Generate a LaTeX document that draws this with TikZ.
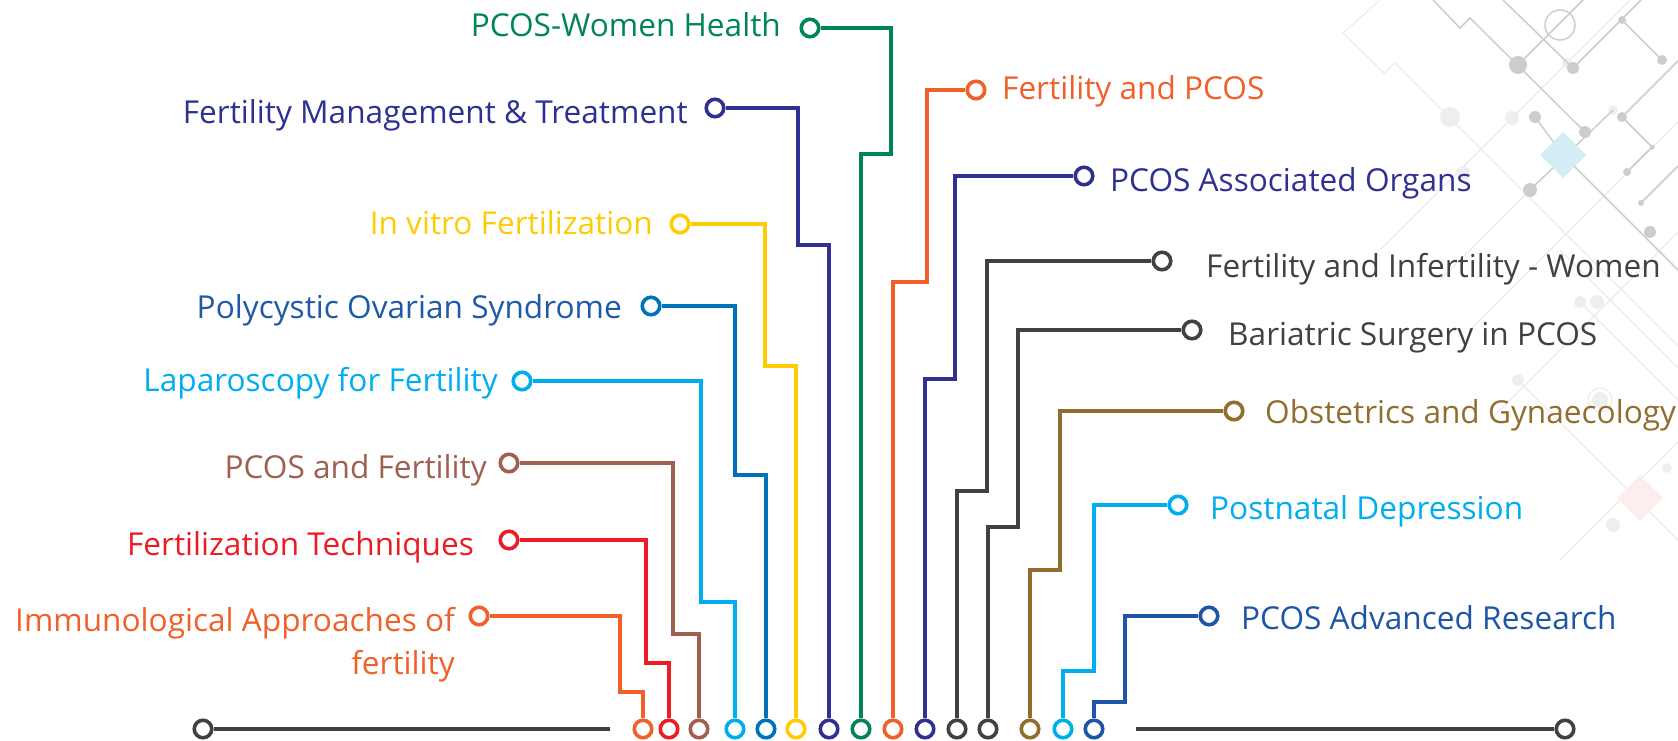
\documentclass[tikz,border=0pt]{standalone}
\usepackage{fontspec}
\setmainfont{Open Sans}
\definecolor{cgreen}{RGB}{0,133,90}
\definecolor{cindigo}{RGB}{46,49,146}
\definecolor{cyellow}{RGB}{255,203,5}
\definecolor{cblue}{RGB}{0,114,188}
\definecolor{cblueT}{RGB}{30,90,168}
\definecolor{clight}{RGB}{0,174,239}
\definecolor{cbrown}{RGB}{160,96,80}
\definecolor{cred}{RGB}{237,28,36}
\definecolor{corange}{RGB}{241,96,40}
\definecolor{cgray}{RGB}{65,64,66}
\definecolor{colive}{RGB}{145,110,45}
\definecolor{cnavy}{RGB}{30,85,165}
\definecolor{bgA}{RGB}{238,238,238}
\definecolor{bgB}{RGB}{205,205,205}
\definecolor{bgDia}{RGB}{212,236,245}
\definecolor{bgPink}{RGB}{252,238,236}
\begin{document}
\begin{tikzpicture}[x=1pt,y=-1pt,
  dot/.style={circle,draw=#1,line width=3.6pt,fill=white,minimum size=17.5pt,inner sep=0pt},
  wire/.style={draw=#1,line width=3.3pt},
  lab/.style={text=#1,font=\fontsize{31.6}{43}\selectfont,inner sep=0pt},
  bgl/.style={draw=bgA,line width=1.5pt},
  bgg/.style={draw=bgB,line width=1.5pt}]
\useasboundingbox (0,0) rectangle (1678,741);
% background decoration
\draw[bgl] (1380,0) -- (1343,33) -- (1384,73) -- (1395,63) -- (1678,346);
\draw[bgl] (1380,250) -- (1630,0);
\draw[bgl] (1440,280) -- (1530,190);
\draw[bgl] (1470,330) -- (1678,122);
\draw[bgl] (1490,420) -- (1678,232);
\draw[bgl] (1560,250) -- (1678,368);
\draw[bgl] (1580,302) -- (1678,400);
\draw[bgl] (1518,380) -- (1678,540);
\draw[bgl] (1560,560) -- (1678,442);
\fill[bgA] (1450,117) circle (10);
\fill[bgA] (1512,118) circle (7);
\fill[bgA] (1567,63) circle (5);
\fill[bgA] (1463,173) circle (7);
\fill[bgA] (1613,110) circle (5);
\fill[bgA] (1597,302) circle (7);
\fill[bgA] (1518,380) circle (6);
\fill[bgA] (1600,400) circle (8);
\draw[bgl] (1600,400) circle (12);
\fill[bgA] (1667,468) circle (5);
\fill[bgA] (1613,525) circle (7);
\fill[bgA] (1580,302) circle (6);
\draw[bgg] (1433,0) -- (1460,28) -- (1470,18) -- (1585,132);
\draw[bgg] (1518,65) -- (1583,0);
\draw[bgg] (1503,0) -- (1573,68);
\draw[bgg] (1560,25) circle (15);
\draw[bgg] (1573,68) -- (1641,0);
\draw[bgg] (1622,20) -- (1662,60);
\draw[bgg] (1535,117) -- (1563,155);
\draw[bgg] (1530,190) -- (1613,110);
\draw[bgg] (1563,155) -- (1678,270);
\draw[bgg] (1622,117) -- (1678,61);
\draw[bgg] (1622,117) -- (1652,147) -- (1627,172);
\draw[bgg] (1641,203) -- (1678,166);
\fill[bgB] (1518,65) circle (9);
\fill[bgB] (1585,132) circle (6);
\fill[bgB] (1573,68) circle (6);
\fill[bgB] (1622,20) circle (4);
\fill[bgB] (1662,60) circle (5);
\fill[bgB] (1535,117) circle (6);
\fill[bgB] (1530,190) circle (7);
\fill[bgB] (1650,232) circle (6);
\fill[bgB] (1622,117) circle (5);
\fill[bgB] (1627,172) circle (4);
\fill[bgB] (1652,147) circle (2.5);
\fill[bgB] (1641,203) circle (3);
\fill[bgDia] (1563,132) -- (1586,155) -- (1563,178) -- (1540,155) -- cycle;
\fill[bgPink] (1640,475) -- (1663,498) -- (1640,521) -- (1617,498) -- cycle;
% bottom gray rails
\node[dot=cgray] (gl) at (203,729) {};
\node[dot=cgray] (gr) at (1565,729) {};
\coordinate (glend) at (610,729);
\coordinate (grstart) at (1136,729);
\draw[draw=cgray,line width=4.5pt] (gl.east) -- (glend);
\draw[draw=cgray,line width=4.5pt] (grstart) -- (gr.west);
% bottom dots
\node[dot=corange] (b8) at (643,729) {};
\node[dot=cred] (b7) at (669,729) {};
\node[dot=cbrown] (b6) at (699,729) {};
\node[dot=clight] (b5) at (735,729) {};
\node[dot=cblue] (b4) at (766,729) {};
\node[dot=cyellow] (b3) at (796,729) {};
\node[dot=cindigo] (b2) at (829,729) {};
\node[dot=cgreen] (b1) at (861,729) {};
\node[dot=corange] (b9) at (893,729) {};
\node[dot=cindigo] (b10) at (925,729) {};
\node[dot=cgray] (b11) at (957,729) {};
\node[dot=cgray] (b12) at (988,729) {};
\node[dot=colive] (b13) at (1030,729) {};
\node[dot=clight] (b14) at (1063,729) {};
\node[dot=cnavy] (b15) at (1094,729) {};
% label dots
\node[dot=cgreen] (l1) at (810,28) {};
\node[dot=cindigo] (l2) at (715,108) {};
\node[dot=cyellow] (l3) at (680,224) {};
\node[dot=cblue] (l4) at (651,306) {};
\node[dot=clight] (l5) at (522,381) {};
\node[dot=cbrown] (l6) at (509,463) {};
\node[dot=cred] (l7) at (509,540) {};
\node[dot=corange] (l8) at (479,616) {};
\node[dot=corange] (r9) at (976,90) {};
\node[dot=cindigo] (r10) at (1084,176) {};
\node[dot=cgray] (r11) at (1162,261) {};
\node[dot=cgray] (r12) at (1192,330) {};
\node[dot=colive] (r13) at (1234,411) {};
\node[dot=clight] (r14) at (1178,505) {};
\node[dot=cnavy] (r15) at (1209,616) {};
% connectors
\draw[wire=cgreen] (l1.east) -| (891,154) -| (b1.north);
\draw[wire=cindigo] (l2.east) -| (798,245) -| (b2.north);
\draw[wire=cyellow] (l3.east) -| (765,366) -| (b3.north);
\draw[wire=cblue] (l4.east) -| (735,475) -| (b4.north);
\draw[wire=clight] (l5.east) -| (701,602) -| (b5.north);
\draw[wire=cbrown] (l6.east) -| (673,634) -| (b6.north);
\draw[wire=cred] (l7.east) -| (646,663) -| (b7.north);
\draw[wire=corange] (l8.east) -| (620,692) -| (b8.north);
\draw[wire=corange] (r9.west) -| (927,282) -| (b9.north);
\draw[wire=cindigo] (r10.west) -| (955,379) -| (b10.north);
\draw[wire=cgray] (r11.west) -| (987,491) -| (b11.north);
\draw[wire=cgray] (r12.west) -| (1018,527) -| (b12.north);
\draw[wire=colive] (r13.west) -| (1060,570) -| (b13.north);
\draw[wire=clight] (r14.west) -| (1094,671) -| (b14.north);
\draw[wire=cnavy] (r15.west) -| (1125,702) -| (b15.north);
% labels
\node[lab=cgreen,anchor=base east] (t1) at (781,37) {PCOS-Women Health};
\node[lab=cindigo,anchor=base east] (t2) at (688,124) {Fertility Management \& Treatment};
\node[lab=cyellow,anchor=base east] (t3) at (653,234) {In vitro Fertilization};
\node[lab=cblueT,anchor=base east] (t4) at (622,318) {Polycystic Ovarian Syndrome};
\node[lab=clight,anchor=base east] (t5) at (498,391) {Laparoscopy for Fertility};
\node[lab=cbrown,anchor=base east] (t6) at (487,478) {PCOS and Fertility};
\node[lab=cred,anchor=base east] (t7) at (474,555) {Fertilization Techniques};
\node[lab=corange,anchor=base east] (t8) at (455,631) {Immunological Approaches of};
\node[lab=corange,anchor=base east] (t8b) at (455,674) {fertility};
\node[lab=corange,anchor=base west] (t9) at (1002,100) {Fertility and PCOS};
\node[lab=cindigo,anchor=base west] (t10) at (1110,191) {PCOS Associated Organs};
\node[lab=cgray,anchor=base west] (t11) at (1206,277) {Fertility and Infertility - Women};
\node[lab=cgray,anchor=base west] (t12) at (1228,345) {Bariatric Surgery in PCOS};
\node[lab=colive,anchor=base west] (t13) at (1265,423) {Obstetrics and Gynaecology};
\node[lab=clight,anchor=base west] (t14) at (1210,519) {Postnatal Depression};
\node[lab=cnavy,anchor=base west] (t15) at (1241,629) {PCOS Advanced Research};
\end{tikzpicture}
\end{document}
